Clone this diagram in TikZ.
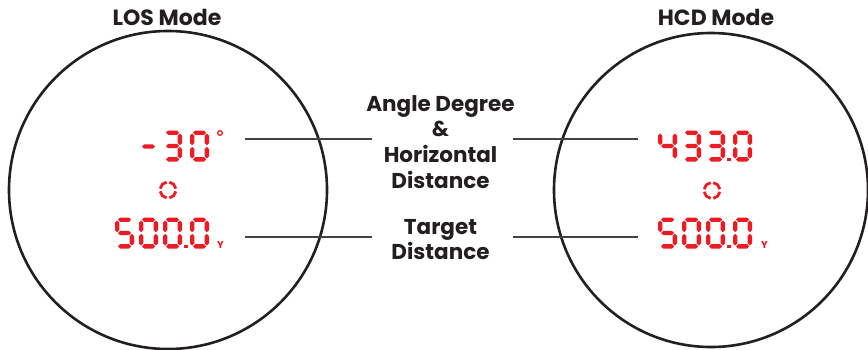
\documentclass[tikz,border=0pt]{standalone}
\usepackage{fontspec}
\setmainfont{Poppins}
\definecolor{lcdred}{RGB}{237,28,36}
\definecolor{ink}{RGB}{35,31,32}
% seven-segment helpers (pixel units, y downward)
\newcommand\segH[3]{\fill[lcdred] (#1,#3) -- ({#1+2.2},{#3-2.2}) -- ({#2-2.2},{#3-2.2}) -- (#2,#3) -- ({#2-2.2},{#3+2.2}) -- ({#1+2.2},{#3+2.2}) -- cycle;}
\newcommand\segV[3]{\fill[lcdred] (#1,#2) -- ({#1+2.2},{#2+2.2}) -- ({#1+2.2},{#3-2.2}) -- (#1,#3) -- ({#1-2.2},{#3-2.2}) -- ({#1-2.2},{#2+2.2}) -- cycle;}
\newcommand\sga{\segH{3}{16.2}{2.2}}
\newcommand\sgb{\segV{16.8}{3}{14.7}}
\newcommand\sgc{\segV{16.8}{16.3}{28}}
\newcommand\sgd{\segH{3}{16.2}{28.8}}
\newcommand\sge{\segV{2.2}{16.3}{28}}
\newcommand\sgf{\segV{2.2}{3}{14.7}}
\newcommand\sgg{\segH{3}{16.2}{15.5}}
\newcommand\dgt[3]{\begin{scope}[shift={(#1,#2)}]\foreach \s in {#3}{\csname sg\s\endcsname}\end{scope}}
\newcommand\dZero[2]{\dgt{#1}{#2}{a,b,c,d,e,f}}
\newcommand\dThree[2]{\dgt{#1}{#2}{a,b,c,d,g}}
\newcommand\dFour[2]{\dgt{#1}{#2}{b,c,f,g}}
\newcommand\dFive[2]{\dgt{#1}{#2}{a,c,d,f,g}}
\newcommand\dPoint[2]{\fill[lcdred] (#1,#2) rectangle ++(3.2,-3.4);}
\begin{document}
\begin{tikzpicture}[x=1pt,y=-1pt,
  title/.style={font=\bfseries\fontsize{22}{24}\selectfont, text=ink, inner sep=0pt, anchor=base},
  label/.style={font=\bfseries\fontsize{21.5}{25.7}\selectfont, text=ink, inner sep=0pt, align=center, anchor=north},
  scope circle/.style={draw=ink, line width=2.6pt},
  leader/.style={draw=ink!85, line width=1.1pt},
  unit/.style={font=\bfseries\fontsize{10}{11}\selectfont, text=lcdred, inner sep=0pt, anchor=base},
  reticle/.style={draw=lcdred, line width=2.8pt}]
\useasboundingbox (0,0) rectangle (868,349);
% scopes
\draw[scope circle] (168,190) circle[radius=159];
\draw[scope circle] (711,190) circle[radius=157];
% titles
\node[title] (los) at (167,25) {LOS Mode};
\node[title] (hcd) at (716,25) {HCD Mode};
% centre labels
\node[label] (angle) at (440.5,95) {Angle Degree\\\&\\Horizontal\\Distance};
\node[label] (target) at (440.5,219) {Target\\Distance};
% leader lines
\coordinate (l1a) at (245,139); \coordinate (l1b) at (372,139);
\coordinate (r1a) at (513,139); \coordinate (r1b) at (638,139);
\coordinate (l2a) at (245,237); \coordinate (l2b) at (372,237);
\coordinate (r2a) at (513,237); \coordinate (r2b) at (638,237);
\draw[leader] (l1a) -- (l1b);
\draw[leader] (r1b) -- (r1a);
\draw[leader] (l2a) -- (l2b);
\draw[leader] (r2b) -- (r2a);
% LOS display
\segH{142}{155}{146.5}
\dThree{163}{130.5}
\dZero{190}{130.5}
\draw[lcdred, line width=1.3pt] (220,133) circle[radius=2.3];
\dFive{115}{217.5}
\dZero{139}{217.5}
\dZero{163}{217.5}
\dPoint{184.3}{248.4}
\dZero{190}{217.5}
\node[unit] (yl) at (220.5,248.5) {Y};
\foreach \a in {0,90,180,270}
  \draw[reticle] (168,190) ++(\a+10:8) arc[start angle=\a+10, end angle=\a+80, radius=8];
% HCD display
\dFour{658}{130.5}
\dThree{682}{130.5}
\dThree{706}{130.5}
\dPoint{727.3}{161.4}
\dZero{733}{130.5}
\dFive{658}{217.5}
\dZero{682}{217.5}
\dZero{706}{217.5}
\dPoint{727.3}{248.4}
\dZero{733}{217.5}
\node[unit] (yr) at (764.5,248.5) {Y};
\foreach \a in {0,90,180,270}
  \draw[reticle] (712,190.5) ++(\a+10:8) arc[start angle=\a+10, end angle=\a+80, radius=8];
\end{tikzpicture}
\end{document}
